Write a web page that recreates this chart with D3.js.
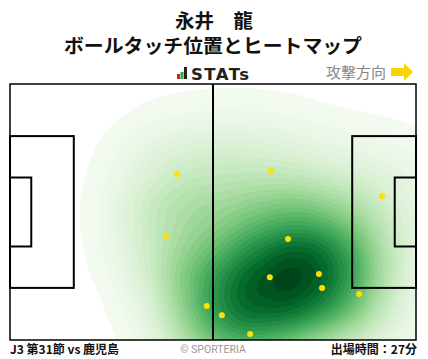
<!DOCTYPE html>
<html><head><meta charset="utf-8">
<script src="https://cdn.jsdelivr.net/npm/d3@7"></script>
<style>body{margin:0;background:#fff;} svg{display:block;font-family:"Noto Sans CJK JP","Noto Sans",sans-serif;}</style>
</head><body>
<svg id="c" width="428" height="359"></svg>
<script>
const playerName = "永井　龍";
const chartTitle = "ボールタッチ位置とヒートマップ";
const matchLabel = "J3 第31節 vs 鹿児島";
const minutesLabel = "出場時間：27分";
// touch positions in metres (pitch 105 x 68)
const touchX = [43.2, 40.3, 50.9, 67.5, 71.9, 67.2, 79.9, 80.7, 90.3, 54.8, 62.1, 96.2];
const touchY = [23.9, 40.4, 59.0, 23.1, 41.2, 51.3, 50.5, 54.2, 55.8, 61.4, 66.4, 29.8];
const pitchLength = 105, pitchWidth = 68;

const svg = d3.select("#c");
const L = 10, R = 416, T = 84, B = 340;
const x = d3.scaleLinear().domain([0, pitchLength]).range([L, R]);
const y = d3.scaleLinear().domain([0, pitchWidth]).range([T, B]);

svg.append("text").attr("x", 175).attr("y", 28).attr("font-size", 19).attr("font-weight", "bold")
  .attr("fill", "#111").attr("textLength", 78).attr("lengthAdjust", "spacingAndGlyphs").text(playerName);
svg.append("text").attr("x", 64).attr("y", 53).attr("font-size", 19).attr("font-weight", "bold")
  .attr("fill", "#111").attr("textLength", 298).attr("lengthAdjust", "spacingAndGlyphs").text(chartTitle);

// STATs logo
svg.append("rect").attr("x", 177).attr("y", 74).attr("width", 3).attr("height", 5).attr("fill", "#e02020");
svg.append("rect").attr("x", 180.5).attr("y", 72).attr("width", 3).attr("height", 7).attr("fill", "#2aa84a");
svg.append("rect").attr("x", 184).attr("y", 67).attr("width", 3).attr("height", 12).attr("fill", "#222");
svg.append("text").attr("x", 191).attr("y", 79.5).attr("font-size", 16.5).attr("font-weight", "bold")
  .attr("fill", "#222").attr("font-family", "'DejaVu Sans', sans-serif").attr("textLength", 58).text("STATs");

// attack direction
svg.append("text").attr("x", 386).attr("y", 78).attr("text-anchor", "end").attr("font-size", 15)
  .attr("fill", "#888").text("攻撃方向");
svg.append("path").attr("d", "M391,68 H404 V63 L413,72 L404,81 V76 H391 Z").attr("fill", "#f7d500");

// heatmap
const pts = touchX.map((d, i) => [x(d), y(touchY[i])]);
const dens = d3.contourDensity().x(d => d[0]).y(d => d[1])
  .size([428, 359]).bandwidth(46).cellSize(2).thresholds(40)(pts);
const maxV = d3.max(dens, d => d.value);
const color = v => d3.interpolateGreens(Math.pow(v / maxV, 1.35));
svg.append("clipPath").attr("id", "pc").append("rect").attr("x", L).attr("y", T).attr("width", R - L).attr("height", B - T);
svg.append("g").attr("clip-path", "url(#pc)").selectAll("path").data(dens.slice(1)).join("path")
  .attr("d", d3.geoPath()).attr("fill", d => color(d.value)).attr("stroke", "none");

// pitch lines
const lines = svg.append("g").attr("fill", "none").attr("stroke", "#000").attr("stroke-width", 2);
lines.append("rect").attr("x", L).attr("y", T).attr("width", R - L).attr("height", B - T).attr("stroke-width", 1.5);
lines.append("line").attr("x1", x(pitchLength / 2)).attr("x2", x(pitchLength / 2)).attr("y1", T).attr("y2", B);
const pbW = 40.32, gaW = 18.32;
lines.append("rect").attr("x", x(0)).attr("y", y((pitchWidth - pbW) / 2)).attr("width", x(16.5) - x(0)).attr("height", y(pbW) - y(0));
lines.append("rect").attr("x", x(0)).attr("y", y((pitchWidth - gaW) / 2)).attr("width", x(5.5) - x(0)).attr("height", y(gaW) - y(0));
lines.append("rect").attr("x", x(pitchLength - 16.5)).attr("y", y((pitchWidth - pbW) / 2)).attr("width", x(16.5) - x(0)).attr("height", y(pbW) - y(0));
lines.append("rect").attr("x", x(pitchLength - 5.5)).attr("y", y((pitchWidth - gaW) / 2)).attr("width", x(5.5) - x(0)).attr("height", y(gaW) - y(0));

// touches
svg.append("g").selectAll("circle").data(pts).join("circle")
  .attr("cx", d => d[0]).attr("cy", d => d[1]).attr("r", 3).attr("fill", "#ffe000");

// footer
svg.append("text").attr("x", 10).attr("y", 354).attr("font-size", 12).attr("font-weight", "bold").attr("fill", "#111").text(matchLabel);
svg.append("text").attr("x", 213).attr("y", 353).attr("text-anchor", "middle").attr("font-size", 10.5).attr("fill", "#999")
  .attr("font-family", "Roboto, sans-serif").text("© SPORTERIA");
svg.append("text").attr("x", 417).attr("y", 354).attr("text-anchor", "end").attr("font-size", 12).attr("font-weight", "bold").attr("fill", "#111").text(minutesLabel);
</script>
</body></html>
